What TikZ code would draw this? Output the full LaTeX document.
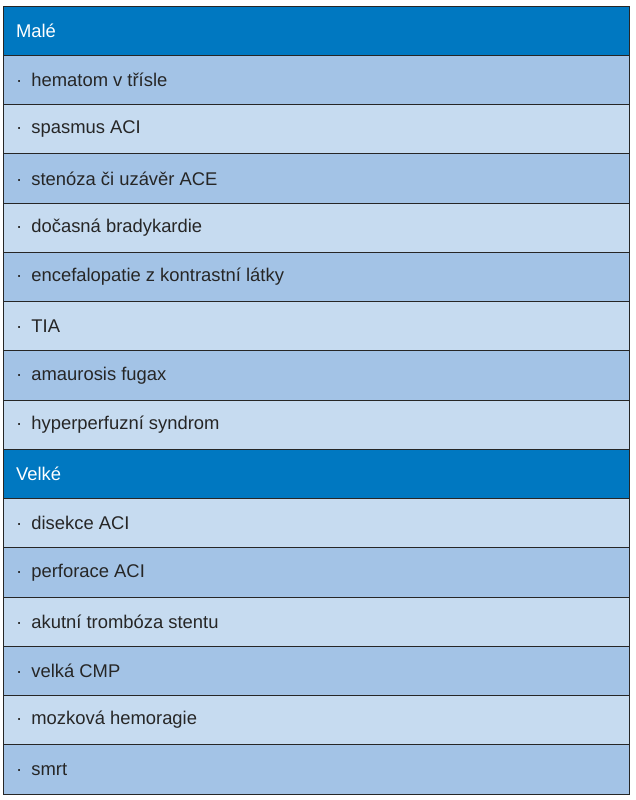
\documentclass[tikz,border=0pt]{standalone}
\usepackage{fontspec}
\setmainfont{Liberation Sans}
\definecolor{headblue}{HTML}{0078C1}
\definecolor{rowdark}{HTML}{A3C3E6}
\definecolor{rowlight}{HTML}{C6DBF0}
\tikzset{
  cell/.style = {draw = black!85, line width = 0.45pt},
  item/.style = {right, font = \fontsize{9.2}{11}\selectfont, text = black!85},
  head/.style = {right, font = \fontsize{9.2}{11}\selectfont, text = white}
}
\begin{document}
\begin{tikzpicture} [x = 0.5pt, y = -0.5pt]
\useasboundingbox (0, 0) rectangle (636, 800);
% header Malé
\fill[headblue] (3, 6) rectangle (629, 55.25);
\node[head] (male) at (9, 30.6){Malé};
\foreach \t [count = \i] in {hematom v třísle, spasmus ACI, stenóza či uzávěr ACE, dočasná bradykardie, encefalopatie z kontrastní látky, TIA, amaurosis fugax, hyperperfuzní syndrom}{
  \pgfmathsetmacro{\ya}{6 + \i*49.25}
  \ifodd\i \def\rc{rowdark}\else \def\rc{rowlight}\fi
  \fill[\rc] (3, \ya) rectangle (629, \ya + 49.25);
  \draw[cell] (3, \ya) -- (629, \ya);
  \node[item] (m\i) at (9, \ya + 24.6){·\hspace{0.5em}\t};
}
% header Velké
\fill[headblue] (3, 449.25) rectangle (629, 498.5);
\draw[cell] (3, 449.25) -- (629, 449.25);
\node[head] (velke) at (9, 473.9){Velké};
\foreach \t [count = \i] in {disekce ACI, perforace ACI, akutní trombóza stentu, velká CMP, mozková hemoragie, smrt}{
  \pgfmathsetmacro{\ya}{449.25 + \i*49.25}
  \ifodd\i \def\rc{rowlight}\else \def\rc{rowdark}\fi
  \fill[\rc] (3, \ya) rectangle (629, \ya + 49.25);
  \draw[cell] (3, \ya) -- (629, \ya);
  \node[item] (v\i) at (9, \ya + 24.6){·\hspace{0.5em}\t};
}
\draw[cell] (3, 6) rectangle (629, 794);
\end{tikzpicture}
\end{document}
